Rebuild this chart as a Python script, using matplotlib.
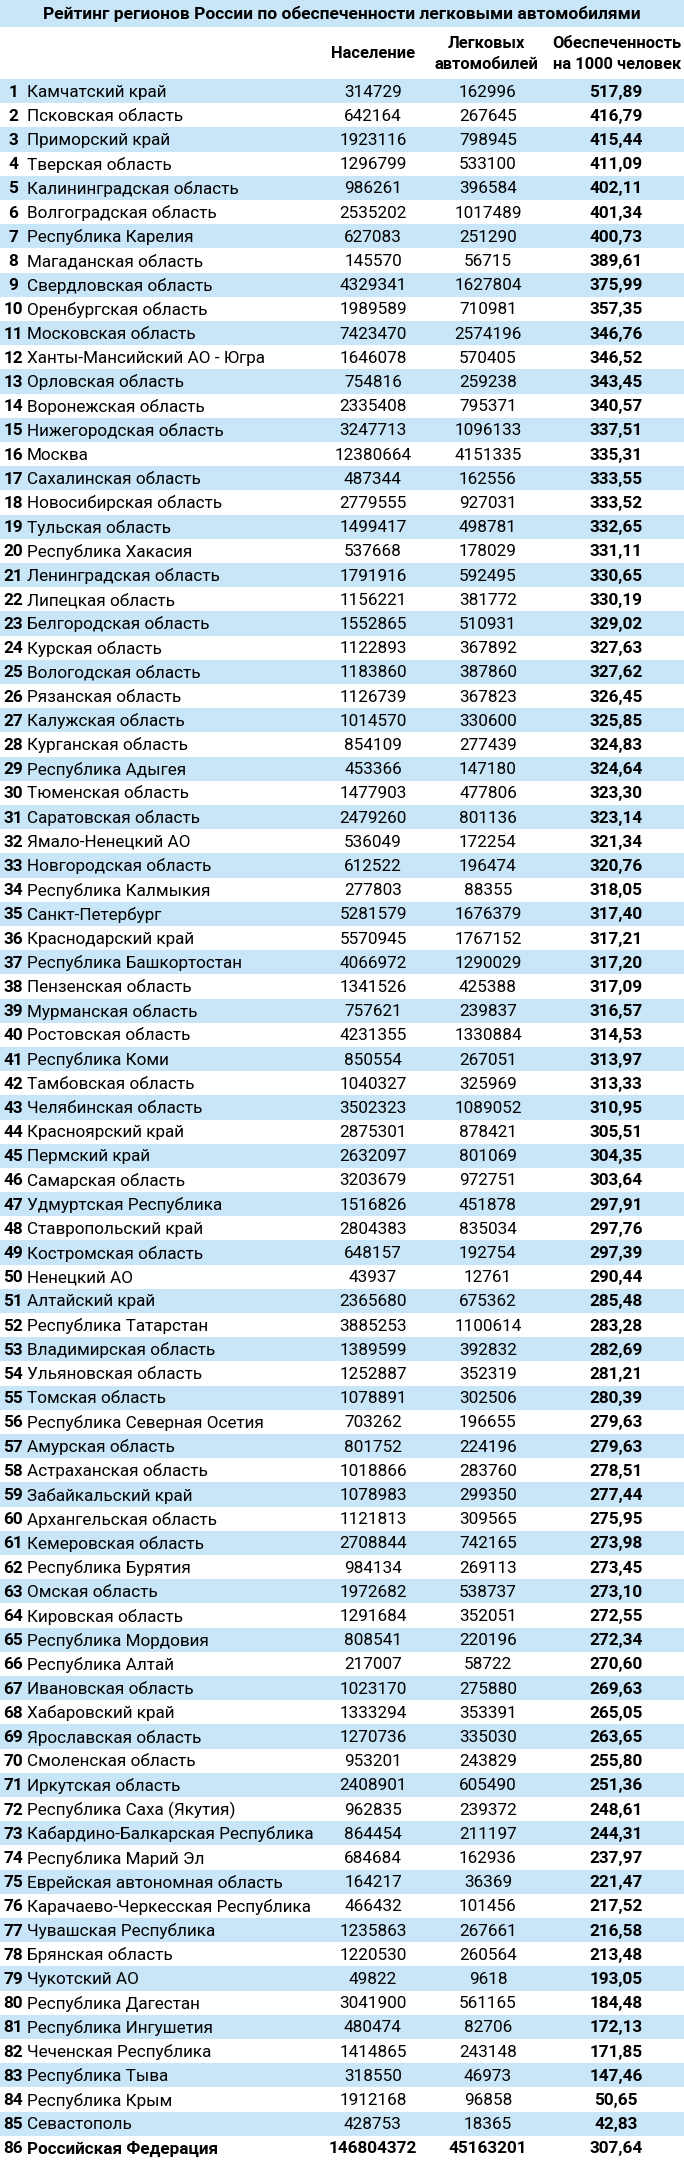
import matplotlib.pyplot as plt

title = "Рейтинг регионов России по обеспеченности легковыми автомобилями"
col_headers = ["Население", "Легковых\nавтомобилей", "Обеспеченность\nна 1000 человек"]

regions = [
    "Камчатский край", "Псковская область", "Приморский край", "Тверская область",
    "Калининградская область", "Волгоградская область", "Республика Карелия",
    "Магаданская область", "Свердловская область", "Оренбургская область",
    "Московская область", "Ханты-Мансийский АО - Югра", "Орловская область",
    "Воронежская область", "Нижегородская область", "Москва", "Сахалинская область",
    "Новосибирская область", "Тульская область", "Республика Хакасия",
    "Ленинградская область", "Липецкая область", "Белгородская область",
    "Курская область", "Вологодская область", "Рязанская область",
    "Калужская область", "Курганская область", "Республика Адыгея",
    "Тюменская область", "Саратовская область", "Ямало-Ненецкий АО",
    "Новгородская область", "Республика Калмыкия", "Санкт-Петербург",
    "Краснодарский край", "Республика Башкортостан", "Пензенская область",
    "Мурманская область", "Ростовская область", "Республика Коми",
    "Тамбовская область", "Челябинская область", "Красноярский край",
    "Пермский край", "Самарская область", "Удмуртская Республика",
    "Ставропольский край", "Костромская область", "Ненецкий АО",
    "Алтайский край", "Республика Татарстан", "Владимирская область",
    "Ульяновская область", "Томская область", "Республика Северная Осетия",
    "Амурская область", "Астраханская область", "Забайкальский край",
    "Архангельская область", "Кемеровская область", "Республика Бурятия",
    "Омская область", "Кировская область", "Республика Мордовия",
    "Республика Алтай", "Ивановская область", "Хабаровский край",
    "Ярославская область", "Смоленская область", "Иркутская область",
    "Республика Саха (Якутия)", "Кабардино-Балкарская Республика",
    "Республика Марий Эл", "Еврейская автономная область",
    "Карачаево-Черкесская Республика", "Чувашская Республика", "Брянская область",
    "Чукотский АО", "Республика Дагестан", "Республика Ингушетия",
    "Чеченская Республика", "Республика Тыва", "Республика Крым", "Севастополь",
    "Российская Федерация",
]

population = [
    314729, 642164, 1923116, 1296799, 986261, 2535202, 627083, 145570, 4329341,
    1989589, 7423470, 1646078, 754816, 2335408, 3247713, 12380664, 487344,
    2779555, 1499417, 537668, 1791916, 1156221, 1552865, 1122893, 1183860,
    1126739, 1014570, 854109, 453366, 1477903, 2479260, 536049, 612522, 277803,
    5281579, 5570945, 4066972, 1341526, 757621, 4231355, 850554, 1040327,
    3502323, 2875301, 2632097, 3203679, 1516826, 2804383, 648157, 43937,
    2365680, 3885253, 1389599, 1252887, 1078891, 703262, 801752, 1018866,
    1078983, 1121813, 2708844, 984134, 1972682, 1291684, 808541, 217007,
    1023170, 1333294, 1270736, 953201, 2408901, 962835, 864454, 684684, 164217,
    466432, 1235863, 1220530, 49822, 3041900, 480474, 1414865, 318550, 1912168,
    428753, 146804372,
]

cars = [
    162996, 267645, 798945, 533100, 396584, 1017489, 251290, 56715, 1627804,
    710981, 2574196, 570405, 259238, 795371, 1096133, 4151335, 162556, 927031,
    498781, 178029, 592495, 381772, 510931, 367892, 387860, 367823, 330600,
    277439, 147180, 477806, 801136, 172254, 196474, 88355, 1676379, 1767152,
    1290029, 425388, 239837, 1330884, 267051, 325969, 1089052, 878421, 801069,
    972751, 451878, 835034, 192754, 12761, 675362, 1100614, 392832, 352319,
    302506, 196655, 224196, 283760, 299350, 309565, 742165, 269113, 538737,
    352051, 220196, 58722, 275880, 353391, 335030, 243829, 605490, 239372,
    211197, 162936, 36369, 101456, 267661, 260564, 9618, 561165, 82706, 243148,
    46973, 96858, 18365, 45163201,
]

per_1000 = [
    517.89, 416.79, 415.44, 411.09, 402.11, 401.34, 400.73, 389.61, 375.99,
    357.35, 346.76, 346.52, 343.45, 340.57, 337.51, 335.31, 333.55, 333.52,
    332.65, 331.11, 330.65, 330.19, 329.02, 327.63, 327.62, 326.45, 325.85,
    324.83, 324.64, 323.30, 323.14, 321.34, 320.76, 318.05, 317.40, 317.21,
    317.20, 317.09, 316.57, 314.53, 313.97, 313.33, 310.95, 305.51, 304.35,
    303.64, 297.91, 297.76, 297.39, 290.44, 285.48, 283.28, 282.69, 281.21,
    280.39, 279.63, 279.63, 278.51, 277.44, 275.95, 273.98, 273.45, 273.10,
    272.55, 272.34, 270.60, 269.63, 265.05, 263.65, 255.80, 251.36, 248.61,
    244.31, 237.97, 221.47, 217.52, 216.58, 213.48, 193.05, 184.48, 172.13,
    171.85, 147.46, 50.65, 42.83, 307.64,
]


def draw():
    W, H = 684, 2160
    blue = "#c8e6f8"
    fam = ["Roboto", "DejaVu Sans"]
    fs = 12.3
    title_h = 27
    top = 79
    row_h = (H - top) / len(regions)
    x_rank, x_name, x_pop, x_cars, x_ratio = 13, 27, 373, 488, 616

    fig = plt.figure(figsize=(W / 100, H / 100), dpi=100)
    ax = fig.add_axes([0, 0, 1, 1])
    ax.set_xlim(0, W)
    ax.set_ylim(H, 0)
    ax.axis("off")

    # title band
    ax.bar(W / 2, title_h, width=W, bottom=0, color=blue, linewidth=0)
    ax.text(W / 2, title_h / 2 + 1, title, ha="center", va="center",
            fontsize=12.5, fontweight="bold", family=fam)

    # column headers
    for x, h in zip([x_pop, x_cars - 2, x_ratio + 1], col_headers):
        ax.text(x, (title_h + top) / 2 + 1, h, ha="center", va="center",
                fontsize=11.9, fontweight="bold", family=fam, linespacing=1.5)

    # row stripes
    ys = [top + i * row_h for i in range(len(regions))]
    stripe_y = [y for i, y in enumerate(ys) if i % 2 == 0]
    ax.bar([W / 2] * len(stripe_y), [row_h] * len(stripe_y), width=W,
           bottom=stripe_y, color=blue, linewidth=0, align="center")

    for i, (name, p, c, r) in enumerate(zip(regions, population, cars, per_1000)):
        yc = ys[i] + row_h / 2 + 1
        last = i == len(regions) - 1
        w = "bold" if last else "normal"
        ax.text(x_rank, yc, str(i + 1), ha="center", va="center",
                fontsize=fs, fontweight="bold", family=fam)
        ax.text(x_name, yc, name, ha="left", va="center",
                fontsize=fs, fontweight=w, family=fam)
        ax.text(x_pop, yc, str(p), ha="center", va="center",
                fontsize=fs, fontweight=w, family=fam)
        ax.text(x_cars, yc, str(c), ha="center", va="center",
                fontsize=fs, fontweight=w, family=fam)
        ax.text(x_ratio, yc, f"{r:.2f}".replace(".", ","), ha="center", va="center",
                fontsize=fs, fontweight="bold", family=fam)

    fig.savefig("out.png", dpi=100)
    plt.close("all")


if __name__ == "__main__":
    draw()
